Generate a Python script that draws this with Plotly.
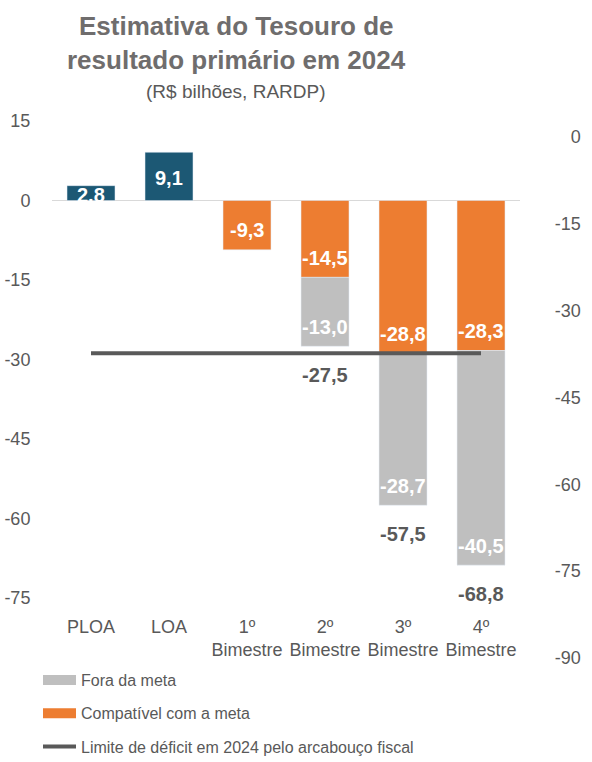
import plotly.graph_objects as go

# ---------------- data ----------------
categories = ["PLOA", "LOA", "1º<br>Bimestre", "2º<br>Bimestre", "3º<br>Bimestre", "4º<br>Bimestre"]
projeto = [2.8, 9.1, None, None, None, None]
projeto_labels = ["2.8", "9,1", "", "", "", ""]
compativel = [None, None, -9.3, -14.5, -28.8, -28.3]
fora = [None, None, None, -13.0, -28.7, -40.5]
limite = [-28.8, -28.8, -28.8, -28.8, -28.8, -28.8]
left_ticks = [15, 0, -15, -30, -45, -60, -75]
right_ticks = [0, -15, -30, -45, -60, -75, -90]

title_line1 = "Estimativa do Tesouro de"
title_line2 = "resultado primário em 2024"
subtitle = "(R$ bilhões, RARDP)"
legend_names = ["Fora da meta", "Compatível com a meta", "Limite de déficit em 2024 pelo arcabouço fiscal"]

# ---------------- style ----------------
W, H = 592, 762
ML, MR, MT, MB = 52, 0, 121, 104
PW, PH = W - ML - MR, H - MT - MB
FONT = "Liberation Sans, Arial, sans-serif"
TEAL = "#1c5874"
ORANGE = "#ed7d31"
GRAY = "#bfbfbf"
DARK = "#595959"
TITLE_C = "#6f6d6d"


def fmt(v):
    return f"{v:.1f}".replace(".", ",")


def py2paper(py):
    return (H - MB - py) / PH


fig = go.Figure()

fig.add_trace(go.Bar(x=categories, y=projeto, marker_color=TEAL, showlegend=False,
                     hoverinfo="x+y"))
fig.add_trace(go.Bar(x=categories, y=compativel, marker_color=ORANGE, showlegend=False,
                     legendgroup="compat", name=legend_names[1]))
fig.add_trace(go.Bar(x=categories, y=fora, marker_color=GRAY, showlegend=False,
                     legendgroup="fora", name=legend_names[0]))
fig.add_trace(go.Scatter(x=categories, y=limite, mode="lines",
                         line=dict(color=DARK, width=4),
                         name=legend_names[2], legendgroup="limite", legendrank=3))

# legend entries (wide swatches)
fig.add_trace(go.Scatter(x=[None], y=[None], mode="lines", line=dict(color=GRAY, width=11),
                         name=legend_names[0], legendgroup="fora", legendrank=1))
fig.add_trace(go.Scatter(x=[None], y=[None], mode="lines", line=dict(color=ORANGE, width=11),
                         name=legend_names[1], legendgroup="compat", legendrank=2))

# invisible trace to carry the right-hand axis
fig.add_trace(go.Scatter(x=[None], y=[None], yaxis="y3", showlegend=False, hoverinfo="skip"))

annotations = []
for i, c in enumerate(categories):
    if projeto[i] is not None:
        annotations.append(dict(x=c, y=projeto[i] / 2, xref="x", yref="y",
                                text="<b>" + projeto_labels[i] + "</b>", yshift=-2,
                                showarrow=False, font=dict(family=FONT, size=20, color="white"),
                                yanchor="middle"))
    base = 0.0
    for series in (compativel, fora):
        v = series[i]
        if v is None:
            continue
        base += v
        annotations.append(dict(x=c, y=base, xref="x", yref="y", text="<b>" + fmt(v) + "</b>",
                                showarrow=False, yshift=19.5, yanchor="middle",
                                font=dict(family=FONT, size=20, color="white")))
    if fora[i] is not None:
        total = compativel[i] + fora[i]
        annotations.append(dict(x=c, y=total, xref="x", yref="y", text="<b>" + fmt(total) + "</b>",
                                showarrow=False, yshift=-29, yanchor="middle",
                                font=dict(family=FONT, size=20, color=DARK)))

tx = (236 - ML) / PW
annotations.append(dict(x=tx, y=py2paper(26), xref="paper", yref="paper", showarrow=False,
                        text="<b>" + title_line1 + "</b>", yanchor="middle",
                        font=dict(family=FONT, size=26, color=TITLE_C)))
annotations.append(dict(x=tx, y=py2paper(60), xref="paper", yref="paper", showarrow=False,
                        text="<b>" + title_line2 + "</b>", yanchor="middle",
                        font=dict(family=FONT, size=26, color=TITLE_C)))
annotations.append(dict(x=tx, y=py2paper(92), xref="paper", yref="paper", showarrow=False,
                        text=subtitle, yanchor="middle",
                        font=dict(family=FONT, size=19, color=DARK)))

# right axis: 0 at pixel 137, -90 at pixel 658 (bottom of plotting area)
r_per_px = 90 / (658 - 137)
r_top = (137 - MT) * r_per_px

fig.update_layout(
    width=W, height=H,
    margin=dict(l=ML, r=MR, t=MT, b=MB, autoexpand=False),
    paper_bgcolor="white", plot_bgcolor="rgba(0,0,0,0)",
    barmode="relative", bargap=0.385,
    font=dict(family=FONT, size=18, color=DARK),
    showlegend=True,
    legend=dict(orientation="v", xref="container", yref="container",
                x=38 / W, xanchor="left", y=1 - 663 / H, yanchor="top",
                font=dict(family=FONT, size=16, color=DARK),
                itemwidth=33, tracegroupgap=9.5, bgcolor="rgba(0,0,0,0)",
                itemclick=False, itemdoubleclick=False),
    xaxis=dict(domain=[0, 468 / PW], range=[-0.5, len(categories) - 0.5],
               showgrid=False, zeroline=False, showline=False,
               ticks="outside", ticklen=12, tickcolor="rgba(0,0,0,0)",
               tickfont=dict(family=FONT, size=18, color=DARK), automargin=False,
               fixedrange=True),
    yaxis=dict(domain=[py2paper(598), 1], range=[-75, 15], tickvals=left_ticks,
               ticktext=[str(v) for v in left_ticks],
               showgrid=False, zeroline=True, zerolinecolor="#d9d9d9", zerolinewidth=1,
               showline=False, ticks="outside", ticklen=17, tickcolor="rgba(0,0,0,0)",
               tickfont=dict(family=FONT, size=18, color=DARK), automargin=False,
               fixedrange=True),
    yaxis3=dict(domain=[0, 1], range=[-90, r_top], tickvals=right_ticks,
                ticktext=[str(v) for v in right_ticks],
                anchor="free", position=0.979, side="left",
                showgrid=False, zeroline=False, showline=False, ticks="",
                tickfont=dict(family=FONT, size=18, color=DARK), automargin=False,
                fixedrange=True),
    annotations=annotations,
)

fig.write_html("out.html", config={"displayModeBar": False},
               post_script="document.body.style.margin='0';")
